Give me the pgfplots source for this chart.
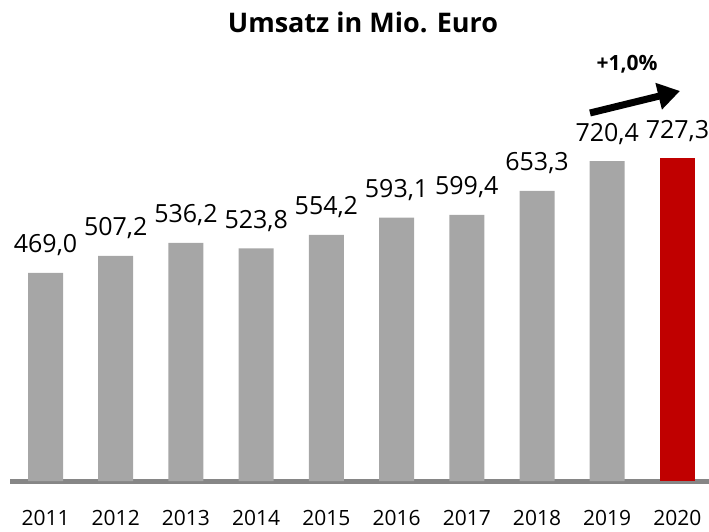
\documentclass[border=0pt]{standalone}
\usepackage{fontspec}
\setmainfont{Open Sans}
\usepackage{pgfplots}
\pgfplotsset{compat=1.18}
\usetikzlibrary{arrows.meta}
\definecolor{barg}{HTML}{A6A6A6}
\definecolor{barr}{HTML}{C00000}
\definecolor{baseg}{HTML}{868686}
\begin{document}
\begin{tikzpicture}
\begin{axis}[
  at={(10pt,50pt)}, anchor=south west,
  scale only axis, width=699pt, height=310.8pt,
  xmin=-0.506, xmax=9.45, ymin=0, ymax=700,
  clip=false,
  axis x line=bottom, axis y line=none,
  x axis line style={-, line width=5pt, color=baseg},
  xtick={0,...,9},
  xticklabels={2011,2012,2013,2014,2015,2016,2017,2018,2019,2020},
  xticklabel style={anchor=base, yshift=-40pt, font=\fontsize{21}{24}\selectfont, inner sep=0pt},
  xtick style={draw=none},
  ytick=\empty,
  ybar, bar width=35pt, bar shift=0pt,
  nodes near coords={\pgfmathprintnumber[fixed,fixed zerofill,precision=1,use comma,assume math mode=true]{\pgfplotspointmeta}},
  nodes near coords style={anchor=base, yshift=20pt, inner sep=0pt, font=\fontsize{25}{28}\selectfont, text=black},
]
\addplot[fill=barg, draw=none] coordinates {(0,469.0) (1,507.2) (2,536.2) (3,523.8) (4,554.2) (5,593.1) (6,599.4) (7,653.3) (8,720.4)};
\addplot[fill=barr, draw=none] coordinates {(9,727.3)};
\end{axis}
\node[font=\fontsize{27}{30}\selectfont\bfseries] at (363pt,509pt) {Umsatz in Mio. Euro};
\node[font=\fontsize{21}{24}\selectfont\bfseries] at (627pt,467pt) {+1,0\%};
\draw[line width=7pt, -{Triangle[length=22pt,width=26pt]}] (590pt,418pt) -- (680pt,440pt);
\pgfresetboundingbox
\path[use as bounding box] (0,0) rectangle (709pt,531pt);
\end{tikzpicture}
\end{document}
